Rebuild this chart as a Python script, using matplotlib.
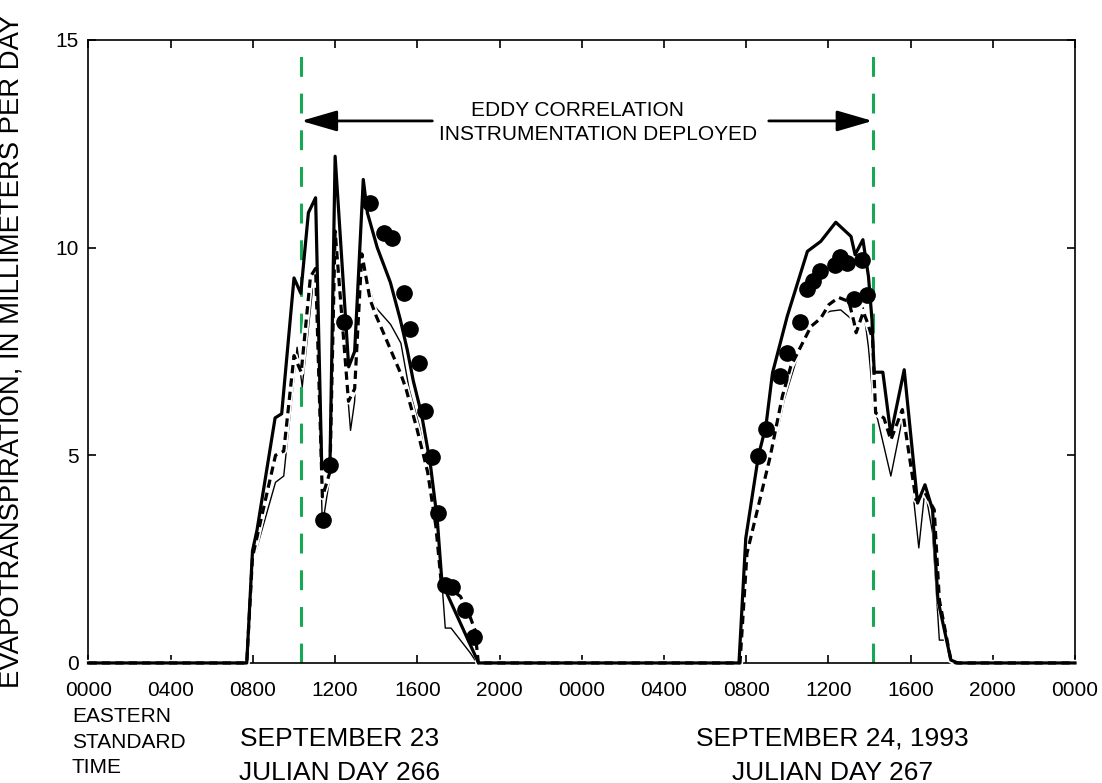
import matplotlib
matplotlib.use("Agg")
import matplotlib.pyplot as plt
from matplotlib.transforms import blended_transform_factory

plt.rcParams['font.family'] = ['Liberation Sans', 'DejaVu Sans']

# Hours since 0000 EST, September 23 (day 266); day 267 runs 24-48.
# Estimate 1: heavy solid line
est1_hr = [0, 7.7, 7.98, 8.2, 9.08, 9.4, 10.0, 10.33, 10.7, 11.05, 11.35, 11.75,
           12.0, 12.66, 12.95, 13.37, 13.57, 14.05, 14.69, 15.17, 15.51, 15.8,
           16.2, 16.63, 16.97, 17.2, 18.98,
           31.65, 31.98, 32.6, 32.96, 33.28, 34.0, 34.98, 35.63, 36.36, 37.1,
           37.3, 37.68, 37.95, 38.12, 38.23, 38.65, 39.04, 39.69, 40.34, 40.7,
           41.07, 41.33, 41.96, 42.3, 48]
est1_et = [0, 0, 2.7, 3.2, 5.9, 6.0, 9.27, 8.9, 10.84, 11.2, 4.7, 4.8,
           12.2, 7.13, 7.5, 11.64, 10.84, 10.0, 9.16, 8.27, 7.54, 6.8,
           6.0, 4.8, 3.45, 1.93, 0,
           0, 3.0, 5.0, 5.7, 6.98, 8.35, 9.91, 10.15, 10.61, 10.27,
           9.83, 10.19, 9.31, 8.27, 7.0, 7.0, 5.5, 7.06, 3.85, 4.29,
           3.69, 1.52, 0.07, 0, 0]

# Estimate 2: light solid line
est2_hr = [0, 7.7, 7.98, 9.1, 9.5, 9.75, 10.15, 10.4, 10.9, 11.05, 11.38, 11.75,
           12.0, 12.75, 12.95, 13.25, 13.9, 14.7, 15.2, 15.6, 16.1, 16.55, 16.9,
           17.2, 17.36, 17.64, 18.58, 18.9,
           31.71, 32.04, 33.33, 33.85, 34.5, 35.23, 35.71, 36.1, 36.6, 37.15,
           37.35, 37.7, 37.95, 38.2, 38.4, 39.04, 39.69, 40.4, 40.7, 41.07,
           41.4, 41.8, 42.1, 48]
est2_et = [0, 0, 2.4, 4.35, 4.5, 5.7, 7.6, 6.65, 9.0, 9.1, 3.3, 4.5,
           10.2, 5.6, 6.3, 9.9, 8.6, 8.15, 7.7, 6.6, 5.7, 4.6, 3.3,
           1.92, 0.84, 0.84, 0.24, 0,
           0, 2.56, 5.13, 6.34, 7.38, 8.07, 8.39, 8.47, 8.5, 8.27,
           7.95, 8.55, 7.6, 6.2, 5.86, 4.5, 6.1, 2.77, 4.17, 3.13,
           0.55, 0.55, 0, 0]

# Estimate 3: dashed line
est3_hr = [0, 7.7, 7.98, 9.1, 9.5, 10.0, 10.35, 10.8, 11.05, 11.38, 11.75,
           12.0, 12.65, 12.95, 13.3, 13.7, 14.0, 14.35, 14.7, 15.18, 15.45,
           16.0, 16.5, 16.9, 17.15, 17.7, 18.1, 18.5, 18.8, 18.97,
           31.7, 32.04, 33.17, 33.76, 34.17, 34.66, 35.15, 35.63, 36.03, 36.5,
           37.0, 37.25, 37.35, 37.7, 37.9, 38.15, 38.3, 38.7, 39.04, 39.6,
           40.26, 40.7, 41.15, 41.4, 41.96, 42.2, 48]
est3_et = [0, 0, 2.55, 5.0, 5.1, 7.4, 7.0, 9.3, 9.5, 4.0, 4.6,
           10.4, 6.3, 6.6, 9.85, 8.75, 8.35, 7.95, 7.54, 6.98, 6.6,
           5.6, 4.6, 3.3, 2.0, 1.75, 1.6, 1.2, 0.8, 0,
           0, 2.64, 4.97, 6.42, 7.14, 7.62, 8.1, 8.3, 8.63, 8.8,
           8.7, 8.2, 7.95, 8.45, 8.2, 7.8, 6.02, 5.9, 5.37, 6.1,
           3.93, 4.1, 3.69, 1.52, 0.07, 0, 0]

# Eddy-correlation measurements
eddy_hr = [11.41, 11.74, 12.42, 13.72, 14.36, 14.77, 15.34, 15.66, 16.07, 16.39,
           16.72, 17.0, 17.36, 17.69, 18.34, 18.74,
           32.6, 32.96, 33.66, 33.98, 34.63, 34.96, 35.25, 35.6, 36.3, 36.58,
           36.93, 37.26, 37.66, 37.9]
eddy_et = [3.45, 4.77, 8.22, 11.08, 10.36, 10.24, 8.9, 8.05, 7.23, 6.06,
           4.96, 3.61, 1.88, 1.84, 1.28, 0.63,
           4.99, 5.63, 6.9, 7.46, 8.2, 9.0, 9.2, 9.43, 9.57, 9.78,
           9.63, 8.77, 9.71, 8.85]

deploy_start = 10.35
deploy_end = 38.15

tick_hours = list(range(0, 49, 4))
tick_labels = ['0000', '0400', '0800', '1200', '1600', '2000',
               '0000', '0400', '0800', '1200', '1600', '2000', '0000']
y_ticks = [0, 5, 10, 15]

day_centers = [12.2, 36.2]
day_dates = ['SEPTEMBER 23', 'SEPTEMBER 24, 1993']
day_julian = ['JULIAN DAY 266', 'JULIAN DAY 267']

fig = plt.figure(figsize=(11.02, 7.83), dpi=100)
ax = fig.add_axes([0.0803, 0.1533, 0.8952, 0.7957])

ax.plot(est2_hr, est2_et, color='black', lw=1.0, clip_on=False, zorder=3)
ax.plot(est3_hr, est3_et, color='white', lw=4.6, clip_on=False, zorder=4)
ax.plot(est1_hr, est1_et, color='black', lw=2.3, clip_on=False, zorder=5)
ax.plot(est3_hr, est3_et, color='black', lw=2.3, ls=(0, (2.6, 1.6)),
        dash_capstyle='butt', clip_on=False, zorder=6)
ax.plot(eddy_hr, eddy_et, 'o', color='black', ms=11, zorder=7)

green = '#16a853'
for xv in (deploy_start, deploy_end):
    ax.axvline(xv, color=green, lw=2.2, ls=(0, (6.5, 5.5)), zorder=2)

arrow_y = 13.05
arrow_props = dict(arrowstyle='-|>,head_length=1.1,head_width=0.32',
                   mutation_scale=20, lw=2.0, color='black',
                   shrinkA=0, shrinkB=0)
ax.annotate('', xy=(deploy_start, arrow_y), xytext=(16.73, arrow_y),
            arrowprops=arrow_props, zorder=8)
ax.annotate('', xy=(deploy_end, arrow_y), xytext=(33.1, arrow_y),
            arrowprops=arrow_props, zorder=8)
ax.text(23.8, 13.3, 'EDDY CORRELATION', ha='center', va='center', fontsize=15)
ax.text(24.77, 12.72, 'INSTRUMENTATION DEPLOYED', ha='center', va='center',
        fontsize=15)

ax.set_xlim(0, 48)
ax.set_ylim(0, 15)
ax.set_xticks(tick_hours)
ax.set_xticklabels(tick_labels)
ax.set_yticks(y_ticks)
ax.tick_params(direction='in', length=6, width=1.2, top=True, right=True,
               labelsize=15, colors='black')
ax.tick_params(axis='x', pad=13)
ax.tick_params(axis='y', pad=7)
for sp in ax.spines.values():
    sp.set_linewidth(1.2)

fig.text(12 / 1102, 0.551, 'EVAPOTRANSPIRATION, IN MILLIMETERS PER DAY',
         rotation=90, ha='center', va='center', fontsize=19.8)

for i, word in enumerate(['EASTERN', 'STANDARD', 'TIME']):
    fig.text(72 / 1102, (783 - 717 - 25.3 * i) / 783, word,
             ha='left', va='center', fontsize=15)

trans = blended_transform_factory(ax.transData, fig.transFigure)
for xc, d, j in zip(day_centers, day_dates, day_julian):
    ax.text(xc, 0.0568, d, transform=trans, ha='center', va='center', fontsize=19)
    ax.text(xc, 0.0128, j, transform=trans, ha='center', va='center', fontsize=19)

fig.savefig('out.png', dpi=100)
